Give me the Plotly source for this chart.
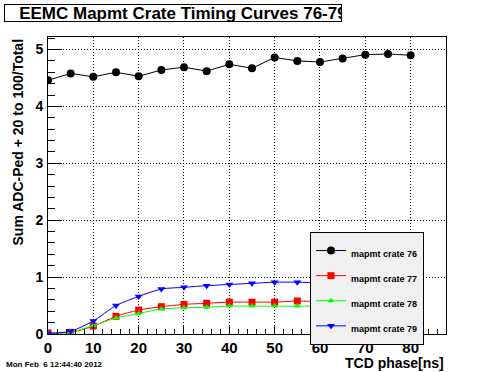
import plotly.graph_objects as go

phase = [0, 5, 10, 15, 20, 25, 30, 35, 40, 45, 50, 55, 60, 65, 70, 75, 80]
crate76 = [4.46, 4.58, 4.52, 4.60, 4.53, 4.64, 4.69, 4.62, 4.74, 4.67, 4.86, 4.80, 4.78, 4.84, 4.91, 4.92, 4.90]
crate77 = [0.02, 0.03, 0.14, 0.31, 0.42, 0.48, 0.52, 0.54, 0.56, 0.56, 0.56, 0.58, 0.57, 0.58, 0.58, 0.57, 0.55]
crate78 = [0.01, 0.03, 0.15, 0.28, 0.36, 0.44, 0.46, 0.47, 0.49, 0.49, 0.49, 0.49, 0.49, 0.49, 0.49, 0.50, 0.50]
crate79 = [0.01, 0.05, 0.23, 0.50, 0.66, 0.79, 0.82, 0.85, 0.87, 0.89, 0.91, 0.91, 0.90, 0.89, 0.88, 0.87, 0.85]

names = ["mapmt crate 76", "mapmt crate 77", "mapmt crate 78", "mapmt crate 79"]
title_text = "EEMC Mapmt Crate Timing Curves 76-79"
xtitle = "TCD phase[ns]"
ytitle = "Sum ADC-Ped + 20 to 100/Total"
datestamp = "Mon Feb \u00a06 12:44:40 2012"

FONT = "Liberation Sans"

def legname(n):
    return "<span style='font-size:9px;font-weight:bold'>" + n + "</span>"

fig = go.Figure()
fig.add_trace(go.Scatter(x=phase, y=crate76, name=legname(names[0]), mode="lines+markers",
                         line=dict(color="black", width=1),
                         marker=dict(symbol="circle", size=8, color="black")))
fig.add_trace(go.Scatter(x=phase, y=crate77, name=legname(names[1]), mode="lines+markers",
                         line=dict(color="#ff0000", width=1, shape="spline", smoothing=0.8),
                         marker=dict(symbol="square", size=7, color="#ff0000")))
fig.add_trace(go.Scatter(x=phase, y=crate78, name=legname(names[2]), mode="lines+markers",
                         line=dict(color="#00ff00", width=1, shape="spline", smoothing=0.8),
                         marker=dict(symbol="triangle-up", size=6, color="#00ff00")))
fig.add_trace(go.Scatter(x=phase, y=crate79, name=legname(names[3]), mode="lines+markers",
                         line=dict(color="#0000ff", width=1, shape="spline", smoothing=0.8),
                         marker=dict(symbol="triangle-down", size=7, color="#0000ff")))

W, H = 496, 372
L, R, T, B = 48, 50, 37, 38
pw, ph = W - L - R, H - T - B

def px(x):
    return (x - L) / pw

def py(y):
    return (H - B - y) / ph

fig.update_layout(
    width=W, height=H,
    margin=dict(l=L, r=R, t=T, b=B),
    paper_bgcolor="white", plot_bgcolor="white",
    font=dict(family=FONT, color="black"),
    showlegend=True,
    legend=dict(x=px(310), y=py(232), xanchor="left", yanchor="top",
                bgcolor="#f0f0f0", bordercolor="black", borderwidth=1,
                font=dict(family=FONT, size=17, color="black"),
                tracegroupgap=0, itemwidth=30),
    xaxis=dict(range=[0, 87.8], showline=True, linecolor="black", linewidth=1, mirror=True,
               automargin=False,
               ticks="inside", ticklen=9, tickcolor="black", dtick=10, tick0=0,
               showgrid=True, gridcolor="black", griddash="1px,2px", gridwidth=1,
               zeroline=False, ticklabelstandoff=0,
               tickfont=dict(family=FONT, size=15, color="black", weight="bold"),
               minor=dict(ticks="inside", ticklen=5, dtick=2, tickcolor="black", showgrid=False)),
    yaxis=dict(range=[0, 5.22], showline=True, linecolor="black", linewidth=1, mirror=True,
               automargin=False,
               ticks="inside", ticklen=14, tickcolor="black", dtick=1, tick0=0,
               showgrid=True, gridcolor="black", griddash="1px,2px", gridwidth=1,
               zeroline=False, ticklabelstandoff=1,
               tickfont=dict(family=FONT, size=14, color="black", weight="bold"),
               minor=dict(ticks="inside", ticklen=7, dtick=0.2, tickcolor="black", showgrid=False)),
)

fig.add_annotation(xref="paper", yref="paper", x=px(4), y=py(4), xanchor="left", yanchor="top",
                   text="<b>   " + title_text + "</b>", showarrow=False, align="left",
                   width=336, height=16, borderpad=0,
                   bordercolor="black", borderwidth=1,
                   font=dict(family=FONT, size=17, color="black"))
fig.add_annotation(xref="paper", yref="paper", x=px(446), y=py(363), xanchor="right", yanchor="middle",
                   text="<b>" + xtitle + "</b>", showarrow=False,
                   font=dict(family=FONT, size=14, color="black"))
fig.add_annotation(xref="paper", yref="paper", x=px(17), y=py(37), xanchor="center", yanchor="top",
                   text="<b>" + ytitle + "</b>", showarrow=False, textangle=-90,
                   font=dict(family=FONT, size=14, color="black"))
fig.add_annotation(xref="paper", yref="paper", x=px(4), y=py(364), xanchor="left", yanchor="middle",
                   text="<b>" + datestamp + "</b>", showarrow=False,
                   font=dict(family=FONT, size=8, color="black"))

fig.write_html("out.html", config={"displayModeBar": False},
               post_script="document.body.style.margin='0';document.body.style.overflow='hidden';")
